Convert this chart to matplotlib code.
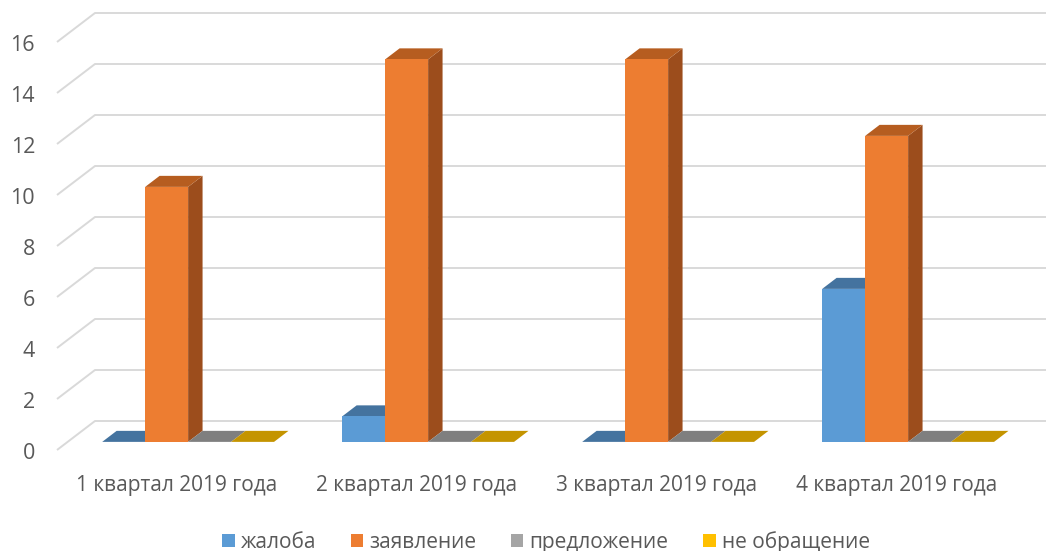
import matplotlib
matplotlib.use("Agg")
import matplotlib.pyplot as plt
from matplotlib.patches import Polygon, Patch

categories = ["1 квартал 2019 года", "2 квартал 2019 года", "3 квартал 2019 года", "4 квартал 2019 года"]
series = ["жалоба", "заявление", "предложение", "не обращение"]
zhaloba = [0, 1, 0, 6]
zayavlenie = [10, 15, 15, 12]
predlozhenie = [0, 0, 0, 0]
ne_obrashchenie = [0, 0, 0, 0]
values = [zhaloba, zayavlenie, predlozhenie, ne_obrashchenie]
yticks = [0, 2, 4, 6, 8, 10, 12, 14, 16]

front_cols = ["#5B9BD5", "#ED7D31", "#A5A5A5", "#FFC000"]
top_cols = ["#44739F", "#B65D20", "#7F7F7F", "#C49400"]
side_cols = ["#3F6E99", "#9C4D1C", "#6E6E6E", "#A87F00"]

plt.rcParams['font.family'] = ['Open Sans', 'DejaVu Sans']
W, H = 1046, 551
fig = plt.figure(figsize=(W / 100, H / 100), dpi=100)
ax = fig.add_axes([0, 0, 1, 1])
ax.set_axis_off()

# pixel geometry
X0, CAT, Y0, UNIT = 57, 240, 450, 25.5
ax.set_xlim(-X0 / CAT, (W - X0) / CAT)
ax.set_ylim(-(H - Y0) / UNIT, Y0 / UNIT)

DX, DY = 38 / CAT, 29 / UNIT        # full depth offset
f0, fd = 0.28, 0.38                  # bar front depth, bar thickness (fractions)
bw, off = 0.179, 0.144               # bar width, offset within slot
xmax = (W - X0) / CAT

grid_c = "#D9D9D9"
for v in yticks:
    ax.plot([0, DX, xmax], [v, v + DY, v + DY], color=grid_c, lw=1.4,
            solid_capstyle='butt', zorder=1)
    ax.text(-22 / CAT, v - 3.5 / UNIT, str(v), ha='right', va='center', fontsize=15.5,
            color="#595959")

for i, cat in enumerate(categories):
    ax.text(i + 0.5, -36 / UNIT, cat, ha='center', va='center', fontsize=15,
            color="#595959")

z = 2
for i in range(len(categories)):
    for j, vals in enumerate(values):
        v = vals[i]
        xl = i + off + j * bw + f0 * DX
        xr = xl + bw
        yb = f0 * DY
        yt = yb + v
        ddx, ddy = fd * DX, fd * DY
        side = Polygon([(xr, yb), (xr + ddx, yb + ddy), (xr + ddx, yt + ddy), (xr, yt)],
                       closed=True, facecolor=side_cols[j], edgecolor='none', zorder=z)
        top = Polygon([(xl, yt), (xr, yt), (xr + ddx, yt + ddy), (xl + ddx, yt + ddy)],
                      closed=True, facecolor=top_cols[j], edgecolor='none', zorder=z)
        front = Polygon([(xl, yb), (xr, yb), (xr, yt), (xl, yt)],
                        closed=True, facecolor=front_cols[j], edgecolor='none', zorder=z)
        ax.add_patch(side)
        ax.add_patch(top)
        ax.add_patch(front)
        z += 1

handles = [Patch(facecolor=c, edgecolor='none') for c in front_cols]
fig.legend(handles, series, loc='center', bbox_to_anchor=(0.522, 1 - 542 / H),
           ncol=4, frameon=False, fontsize=15, handlelength=0.6, handleheight=0.6,
           handletextpad=0.3, columnspacing=1.65, labelcolor="#595959")

fig.savefig("out.png", dpi=100)
